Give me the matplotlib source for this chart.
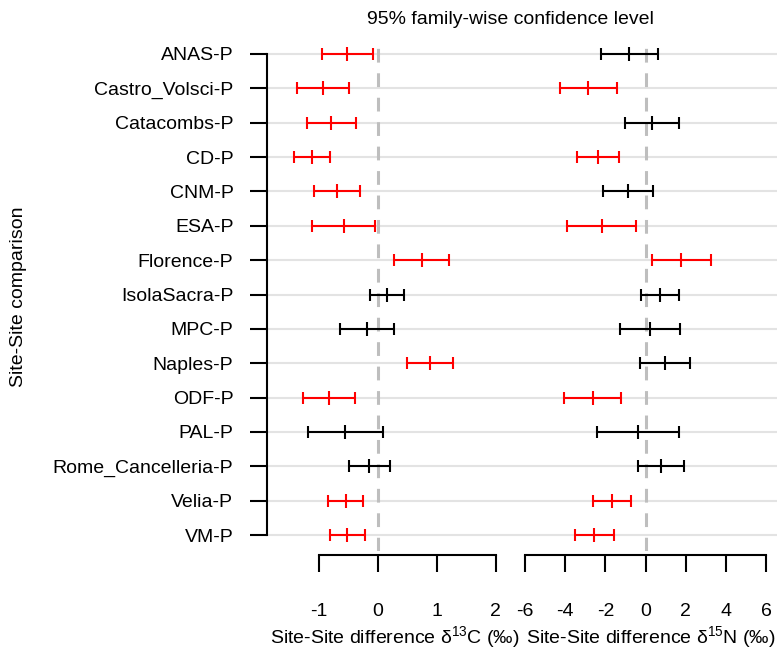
import matplotlib
matplotlib.use("Agg")
import matplotlib.pyplot as plt
import numpy as np

plt.rcParams["font.family"] = ["Liberation Sans", "DejaVu Sans"]
plt.rcParams["mathtext.fontset"] = "custom"
plt.rcParams["mathtext.rm"] = "Liberation Sans"
plt.rcParams["mathtext.default"] = "regular"

# Tukey HSD comparisons of each site against P
comparisons = [
    "ANAS-P", "Castro_Volsci-P", "Catacombs-P", "CD-P", "CNM-P", "ESA-P",
    "Florence-P", "IsolaSacra-P", "MPC-P", "Naples-P", "ODF-P", "PAL-P",
    "Rome_Cancelleria-P", "Velia-P", "VM-P",
]

# delta 13C differences with family-wise intervals
c13_diff = [-0.52, -0.94, -0.80, -1.12, -0.70, -0.58, 0.74, 0.15, -0.18,
            0.88, -0.83, -0.56, -0.15, -0.55, -0.52]
c13_lwr = [-0.95, -1.37, -1.21, -1.43, -1.09, -1.12, 0.28, -0.14, -0.64,
           0.50, -1.27, -1.19, -0.50, -0.85, -0.82]
c13_upr = [-0.08, -0.50, -0.37, -0.81, -0.31, -0.05, 1.20, 0.44, 0.28,
           1.27, -0.39, 0.08, 0.20, -0.25, -0.22]

# delta 15N differences with family-wise intervals
n15_diff = [-0.83, -2.86, 0.31, -2.37, -0.88, -2.19, 1.77, 0.71, 0.20,
            0.96, -2.64, -0.38, 0.76, -1.68, -2.57]
n15_lwr = [-2.24, -4.26, -1.04, -3.40, -2.14, -3.90, 0.30, -0.23, -1.29,
           -0.30, -4.06, -2.44, -0.40, -2.64, -3.53]
n15_upr = [0.60, -1.44, 1.67, -1.34, 0.38, -0.48, 3.25, 1.64, 1.69,
           2.20, -1.23, 1.67, 1.89, -0.71, -1.59]

c13_ticks = [-1, 0, 1, 2]
n15_ticks = [-6, -4, -2, 0, 2, 4, 6]

W, H = 777, 650
fig = plt.figure(figsize=(W / 100, H / 100), dpi=100)


def px_box(x0, x1, y0, y1):
    return [x0 / W, 1 - y1 / H, (x1 - x0) / W, (y1 - y0) / H]


ax1 = fig.add_axes(px_box(267, 511, 38.5, 550.5))
ax2 = fig.add_axes(px_box(511, 777, 38.5, 550.5))

rows = np.arange(1, len(comparisons) + 1)
FS = 14


def panel(ax, diff, lwr, upr, xlim, ticks):
    ax.set_xlim(*xlim)
    ax.set_ylim(len(rows) + 0.45, 0.55)
    for s in ax.spines.values():
        s.set_visible(False)
    for r in rows:
        ax.axhline(r, color="#e3e3e3", lw=1.5, zorder=1)
    ax.axvline(0, color="#bebebe", lw=2.2, dashes=(4.5, 3.5), zorder=2)
    for r, d, lo, hi in zip(rows, diff, lwr, upr):
        col = "#ff0000" if (lo > 0 or hi < 0) else "black"
        ax.errorbar(d, r, xerr=[[d - lo], [hi - d]], fmt="none", ecolor=col,
                    elinewidth=1.5, capsize=4, capthick=1.5, zorder=3)
        ax.plot(d, r, marker="|", ms=10, mew=1.5, color=col, zorder=4)
    sp = ax.spines["bottom"]
    sp.set_visible(True)
    sp.set_position(("outward", 3.3))
    sp.set_bounds(ticks[0], ticks[-1])
    sp.set_linewidth(1.5)
    ax.set_xticks(ticks)
    ax.set_xticklabels([str(t) for t in ticks])
    ax.tick_params(axis="x", direction="out", length=12.2, width=1.5,
                   pad=22, labelsize=FS)


panel(ax1, c13_diff, c13_lwr, c13_upr, (-1.888, 2.262), c13_ticks)
panel(ax2, n15_diff, n15_lwr, n15_upr, (-6.70, 6.53), n15_ticks)

sp = ax1.spines["left"]
sp.set_visible(True)
sp.set_bounds(rows[0], rows[-1])
sp.set_linewidth(1.5)
ax1.set_yticks(rows)
ax1.set_yticklabels(comparisons)
ax1.tick_params(axis="y", direction="out", length=12.2, width=1.5,
                pad=12, labelsize=FS)
ax2.tick_params(axis="y", left=False, labelleft=False)

fig.text(510 / W, 1 - 19 / H, "95% family-wise confidence level",
         ha="center", va="center", fontsize=FS)
fig.text(19 / W, 1 - 297 / H, "Site-Site comparison", rotation=90,
         ha="center", va="center", fontsize=FS)
fig.text(394.5 / W, 1 - 637 / H, r"Site-Site difference δ$^{13}$C (‰)",
         ha="center", va="center", fontsize=FS)
fig.text(651 / W, 1 - 637 / H, r"Site-Site difference δ$^{15}$N (‰)",
         ha="center", va="center", fontsize=FS)

fig.savefig("out.png", dpi=100)
